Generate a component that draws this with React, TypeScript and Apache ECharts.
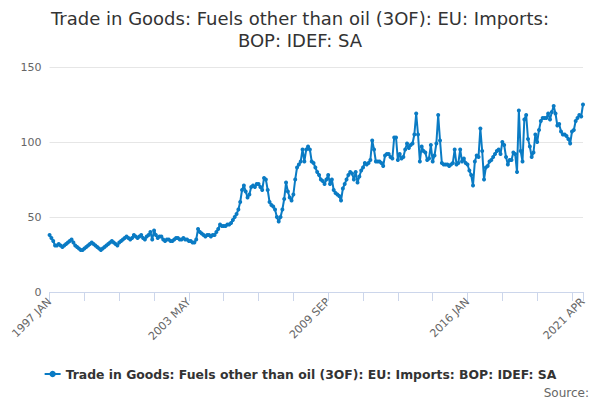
import * as echarts from "echarts";
import React, { useEffect, useRef } from "react";

const seriesName = "Trade in Goods: Fuels other than oil (3OF): EU: Imports: BOP: IDEF: SA";
const startYear = 1997;
const monthNames = ["JAN", "FEB", "MAR", "APR", "MAY", "JUN", "JUL", "AUG", "SEP", "OCT", "NOV", "DEC"];

// monthly values
const values1997to2000 = [
  38, 36, 34, 31, 31, 32, 31, 30, 31, 32, 33, 34,
  35, 33, 31, 30, 29, 28, 28, 29, 30, 31, 32, 33,
  32, 31, 30, 29, 28, 29, 30, 31, 32, 33, 34, 33,
  32, 31, 33, 34, 35, 36, 37, 36, 35, 36, 38, 37,
];
const values2001to2004 = [
  36, 37, 38, 36, 35, 37, 38, 40, 35, 41, 38, 36,
  37, 37, 35, 34, 35, 35, 34, 34, 35, 36, 36, 35,
  35, 36, 35, 35, 34, 34, 33, 33, 35, 42, 40, 39,
  38, 37, 38, 38, 37, 38, 38, 40, 42, 45, 44, 44,
];
const values2005to2008 = [
  44, 45, 45, 46, 48, 50, 52, 55, 60, 68, 71, 67,
  63, 65, 70, 71, 70, 72, 72, 70, 68, 76, 75, 68,
  60, 58, 57, 55, 50, 47, 50, 55, 62, 73, 67, 63,
  61, 65, 75, 83, 85, 87, 95, 87, 95, 97, 95, 87,
];
const values2009to2012 = [
  86, 83, 80, 78, 75, 74, 72, 75, 78, 72, 75, 68,
  66, 65, 64, 61, 69, 72, 75, 78, 80, 79, 75, 80,
  73, 77, 81, 83, 86, 85, 86, 88, 101, 95, 87, 87,
  87, 86, 84, 91, 92, 92, 90, 89, 103, 103, 88, 92,
];
const values2013to2016 = [
  89, 90, 95, 99, 96, 98, 99, 105, 119, 105, 87, 97,
  94, 93, 88, 89, 98, 87, 91, 99, 118, 101, 86, 85,
  85, 85, 84, 85, 86, 95, 85, 86, 95, 87, 89, 86,
  85, 81, 78, 71, 87, 91, 90, 109, 94, 75, 83, 84,
];
const values2017to2021 = [
  87, 88, 90, 92, 94, 95, 92, 100, 98, 90, 85, 88,
  88, 93, 92, 80, 121, 94, 87, 115, 118, 102, 97, 90,
  93, 105, 100, 108, 114, 116, 116, 116, 119, 115, 120, 124,
  119, 111, 112, 107, 105, 105, 104, 102, 99, 107, 108, 114,
  116, 118, 117, 125,
];

const values = [
  ...values1997to2000,
  ...values2001to2004,
  ...values2005to2008,
  ...values2009to2012,
  ...values2013to2016,
  ...values2017to2021,
];
const months = values.map((_, i) => `${startYear + Math.floor(i / 12)} ${monthNames[i % 12]}`);
const lastIndex = months.length - 1;

const font = "DejaVu Sans";

export default function App() {
  const chartRef = useRef<HTMLDivElement>(null);

  useEffect(() => {
    if (!chartRef.current) return;
    const chart = echarts.init(chartRef.current, null, { renderer: "svg" });
    chart.setOption({
      animation: false,
      title: {
        text: "Trade in Goods: Fuels other than oil (3OF): EU: Imports:\nBOP: IDEF: SA",
        left: "center",
        top: -6,
        textStyle: {
          fontFamily: font,
          fontSize: 18,
          fontWeight: "normal",
          color: "#333333",
          lineHeight: 22,
        },
      },
      legend: {
        data: [seriesName],
        bottom: 15,
        left: "center",
        itemWidth: 16,
        itemHeight: 8,
        textStyle: { fontFamily: font, fontSize: 12.4, fontWeight: "bold", color: "#333333" },
      },
      graphic: [
        {
          type: "text",
          right: 3,
          bottom: 1,
          style: { text: "Source:", fontFamily: font, fontSize: 12, fill: "#666666" },
        },
      ],
      grid: { left: 38, right: 9, top: 59, bottom: 108, containLabel: false },
      xAxis: {
        type: "category",
        data: months,
        boundaryGap: false,
        axisLine: { lineStyle: { color: "#ccd6eb" } },
        axisTick: {
          length: 9,
          lineStyle: { color: "#ccd6eb" },
          interval: (i: number) => i % 19 === 0 || i === lastIndex,
        },
        axisLabel: {
          rotate: 45,
          fontFamily: font,
          fontSize: 11,
          color: "#666666",
          margin: 8,
          interval: (i: number) => i % 76 === 0 || i === lastIndex,
        },
        splitLine: { show: false },
      },
      yAxis: {
        type: "value",
        min: 0,
        max: 150,
        interval: 50,
        axisLine: { show: false },
        axisTick: { show: false },
        axisLabel: { fontFamily: font, fontSize: 11, color: "#666666", margin: 8 },
        splitLine: { lineStyle: { color: "#e6e6e6" } },
      },
      series: [
        {
          name: seriesName,
          type: "line",
          data: values,
          symbol: "circle",
          symbolSize: 4,
          showAllSymbol: true,
          lineStyle: { color: "#0a7bc4", width: 2 },
          itemStyle: { color: "#0a7bc4" },
        },
      ],
    });
    return () => {
      chart.dispose();
    };
  }, []);

  return <div ref={chartRef} style={{ width: "584px", height: "392px" }}></div>;
}
